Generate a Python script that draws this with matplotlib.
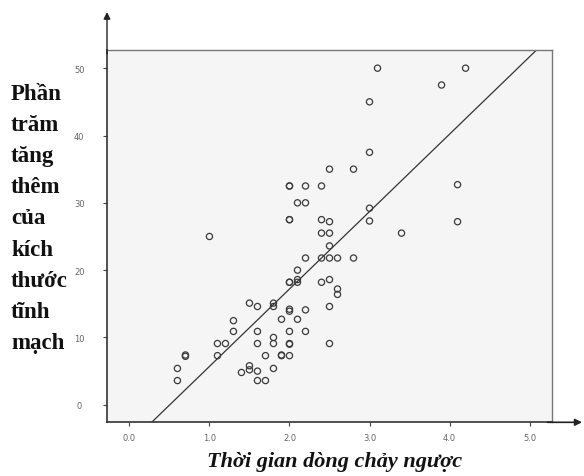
import matplotlib
matplotlib.use("Agg")
import matplotlib.pyplot as plt
import numpy as np

# Data
x_vals = [0.6, 0.6, 0.7, 0.7, 1.0, 1.1, 1.1, 1.2, 1.3, 1.3, 1.4, 1.5, 1.5, 1.5,
          1.6, 1.6, 1.6, 1.6, 1.6, 1.7, 1.7, 1.8, 1.8, 1.8, 1.8, 1.8, 1.9, 1.9, 1.9,
          2.0, 2.0, 2.0, 2.0, 2.0, 2.0, 2.0, 2.0, 2.0, 2.0, 2.0, 2.0,
          2.1, 2.1, 2.1, 2.1, 2.1, 2.2, 2.2, 2.2, 2.2, 2.2,
          2.4, 2.4, 2.4, 2.4, 2.4, 2.5, 2.5, 2.5, 2.5, 2.5, 2.5, 2.5, 2.5,
          2.6, 2.6, 2.6, 2.8, 2.8, 3.0, 3.0, 3.0, 3.0, 3.1, 3.4, 3.9, 4.1, 4.1, 4.2]
y_vals = [5.4, 3.6, 7.4, 7.2, 25.0, 9.1, 7.3, 9.1, 12.5, 10.9, 4.8, 15.1, 5.8, 5.2,
          14.6, 10.9, 9.1, 5.0, 3.6, 7.3, 3.6, 15.1, 14.6, 10.0, 9.1, 5.4, 12.7, 7.4, 7.3,
          32.5, 32.5, 27.5, 27.5, 18.2, 18.2, 14.2, 13.9, 10.9, 9.1, 9.0, 7.3,
          30.0, 20.0, 18.6, 18.2, 12.7, 32.5, 30.0, 21.8, 14.1, 10.9,
          32.5, 27.5, 25.5, 21.8, 18.2, 35.0, 27.2, 25.5, 23.6, 21.8, 18.6, 14.6, 9.1,
          21.8, 17.2, 16.4, 35.0, 21.8, 45.0, 37.5, 29.2, 27.3, 50.0, 25.5, 47.5, 32.7, 27.2, 50.0]

fit_intercept = -5.8
fit_slope = 11.5

x_ticks = [0, 1, 2, 3, 4, 5]
x_ticklabels = ["0.0", "1.0", "2.0", "3.0", "4.0", "5.0"]
y_ticks = [0, 10, 20, 30, 40, 50]
y_ticklabels = ["0", "10", "20", "30", "40", "50"]

y_label_lines = ["Phần", "trăm", "tăng", "thêm", "của", "kích", "thước", "tĩnh", "mạch"]
x_label = "Thời gian dòng chảy ngược"

W, H = 584, 477
fig = plt.figure(figsize=(W / 100, H / 100), dpi=100)
fig.patch.set_facecolor("white")

ax_l, ax_r, ax_t, ax_b = 107, 552, 51, 423.3
ax = fig.add_axes([ax_l / W, (H - ax_b) / H, (ax_r - ax_l) / W, (ax_b - ax_t) / H])
ax.set_facecolor("#f5f5f5")

ax.scatter(x_vals, y_vals, s=20, facecolors="none", edgecolors="#3a3a3a",
           linewidths=0.9, zorder=3)

xlim = (-0.28, 5.28)
ylim = (-2.6, 52.7)
xx = np.array(xlim)
ax.plot(xx, fit_intercept + fit_slope * xx, color="#333333", lw=0.9, zorder=2)
ax.set_xlim(*xlim)
ax.set_ylim(*ylim)

ax.set_xticks(x_ticks)
ax.set_xticklabels(x_ticklabels)
ax.set_yticks(y_ticks)
ax.set_yticklabels(y_ticklabels)
ax.tick_params(direction="out", length=3, width=0.8, colors="#444444",
               labelsize=6, labelcolor="#666666")
ax.tick_params(axis="x", pad=5)
ax.tick_params(axis="y", pad=17)
for lbl in ax.get_yticklabels():
    lbl.set_horizontalalignment("center")

for side in ("top", "right"):
    ax.spines[side].set_color("#777777")
    ax.spines[side].set_linewidth(1.0)
for side in ("left", "bottom"):
    ax.spines[side].set_color("#333333")
    ax.spines[side].set_linewidth(1.2)

# Axis arrows
ax.annotate("", xy=(0, (ax_b - 13) / (ax_b - ax_t)), xytext=(0, 0.99),
            xycoords="axes fraction", textcoords="axes fraction",
            arrowprops=dict(arrowstyle="-|>", color="#222222", lw=1.0,
                            mutation_scale=10, shrinkA=0, shrinkB=0))
ax.annotate("", xy=((582 - ax_l) / (ax_r - ax_l), 0), xytext=(0.99, 0),
            xycoords="axes fraction", textcoords="axes fraction",
            arrowprops=dict(arrowstyle="-|>", color="#222222", lw=1.2,
                            mutation_scale=10, shrinkA=0, shrinkB=0))

# Y label lines
for i, line in enumerate(y_label_lines):
    yb = 99.5 + i * 31.25
    fig.text(11 / W, (H - yb) / H, line, ha="left", va="baseline",
             family=["Liberation Serif", "DejaVu Serif"], weight="bold",
             fontsize=16.5, color="#111111")

fig.text(335 / W, (H - 467) / H, x_label, ha="center", va="baseline",
         family=["Liberation Serif", "DejaVu Serif"], weight="bold", style="italic",
         fontsize=16, color="#111111")

fig.savefig("out.png", dpi=100)
